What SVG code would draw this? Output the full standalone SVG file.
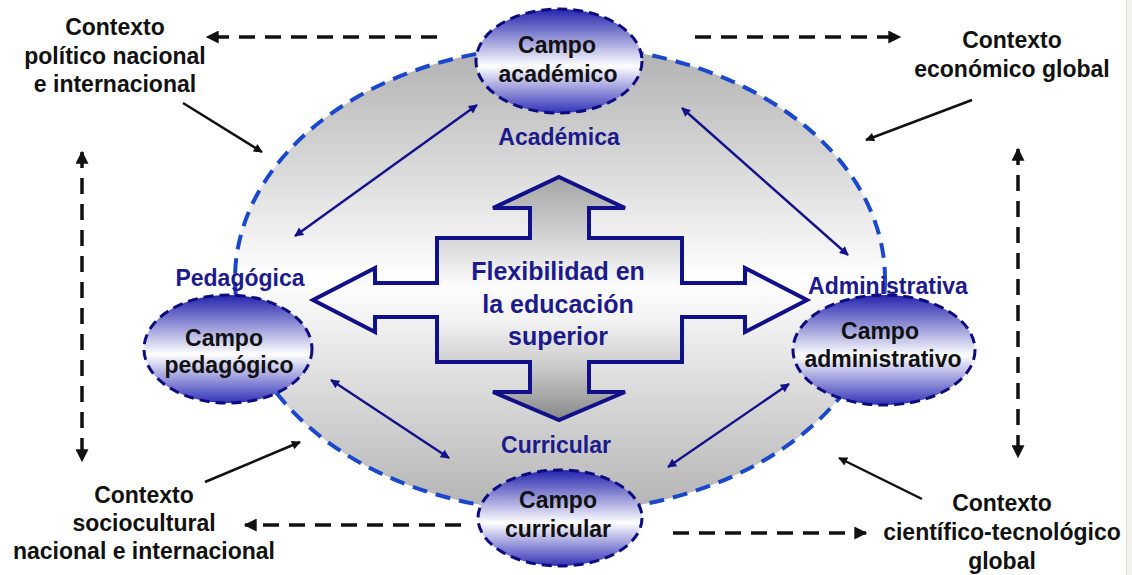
<svg xmlns="http://www.w3.org/2000/svg" width="1132" height="575" viewBox="0 0 1132 575">
<style>
.ctx{font-family:"Liberation Sans",Arial,sans-serif;font-weight:bold;font-size:23px;fill:#111;text-anchor:middle}
.lbl{font-family:"Liberation Sans",Arial,sans-serif;font-weight:bold;font-size:23px;fill:#1c1a8c;text-anchor:middle}
.flex{font-family:"Liberation Sans",Arial,sans-serif;font-weight:bold;font-size:25px;fill:#1c1a8c;text-anchor:middle}
.campo{fill:url(#gc);stroke:#0c0c80;stroke-width:3;stroke-dasharray:10 6}
.blue{stroke:#12128a;stroke-width:2.4;fill:none;marker-start:url(#mb);marker-end:url(#mb)}
.blk{stroke:#111;stroke-width:2.5;fill:none;marker-end:url(#mk)}
.dsh{stroke:#111;stroke-width:3.5;fill:none;stroke-dasharray:16 10}
</style>
<defs>
<linearGradient id="gbig" gradientUnits="userSpaceOnUse" x1="0" y1="45" x2="0" y2="512">
<stop offset="0" stop-color="#b0b0b0"/><stop offset="0.5" stop-color="#ffffff"/><stop offset="1" stop-color="#b3b3b3"/>
</linearGradient>
<linearGradient id="gc" x1="0" y1="0" x2="0" y2="1">
<stop offset="0" stop-color="#2424ae"/><stop offset="0.55" stop-color="#ffffff"/><stop offset="1" stop-color="#3232b8"/>
</linearGradient>
<linearGradient id="gx" gradientUnits="userSpaceOnUse" x1="0" y1="177" x2="0" y2="420">
<stop offset="0" stop-color="#a4a4a4"/><stop offset="0.25" stop-color="#d4d4d4"/><stop offset="0.45" stop-color="#fdfdfd"/><stop offset="0.6" stop-color="#f2f2f2"/><stop offset="0.8" stop-color="#c6c6c6"/><stop offset="1" stop-color="#888888"/>
</linearGradient>
<marker id="mb" viewBox="0 0 10 10" refX="9" refY="5" markerWidth="11" markerHeight="9" markerUnits="userSpaceOnUse" orient="auto-start-reverse"><path d="M0,0 L10,5 L0,10 z" fill="#12128a"/></marker>
<marker id="mk" viewBox="0 0 10 10" refX="9" refY="5" markerWidth="12" markerHeight="9" markerUnits="userSpaceOnUse" orient="auto-start-reverse"><path d="M0,0 L10,5 L0,10 z" fill="#111"/></marker>
<marker id="md" viewBox="0 0 10 10" refX="9" refY="5" markerWidth="14" markerHeight="13" markerUnits="userSpaceOnUse" orient="auto-start-reverse"><path d="M0,0 L10,5 L0,10 z" fill="#111"/></marker>
</defs>
<rect width="1132" height="575" fill="#fff"/>
<rect x="1127" y="0" width="5" height="575" fill="#f3f3ee"/>
<line x1="1126.5" y1="0" x2="1126.5" y2="575" stroke="#dcdcd6" stroke-width="1"/>

<g id="marco">
<ellipse cx="560" cy="279" rx="325" ry="233" fill="url(#gbig)" stroke="#1a48cc" stroke-width="4" stroke-dasharray="15 9"/>
</g>

<g id="connectors">
<line class="blue" x1="295" y1="236" x2="477" y2="105"/>
<line class="blue" x1="682" y1="108" x2="848" y2="255"/>
<line class="blue" x1="331" y1="380" x2="449" y2="458"/>
<line class="blue" x1="668" y1="467" x2="789" y2="384"/>
<line class="blk" x1="183" y1="103" x2="262" y2="152"/>
<line class="blk" x1="972" y1="100" x2="866" y2="140"/>
<line class="blk" x1="205" y1="482" x2="300" y2="442"/>
<line class="blk" x1="922" y1="499" x2="839" y2="458"/>
<line class="dsh" x1="437" y1="37" x2="207" y2="37" marker-end="url(#md)"/>
<line class="dsh" x1="695" y1="37" x2="900" y2="37" marker-end="url(#md)"/>
<line class="dsh" x1="82" y1="152" x2="82" y2="461" marker-start="url(#md)" marker-end="url(#md)"/>
<line class="dsh" x1="1018" y1="149" x2="1018" y2="457" marker-start="url(#md)" marker-end="url(#md)"/>
<line class="dsh" x1="461" y1="525" x2="245" y2="525" marker-end="url(#md)"/>
<line class="dsh" x1="673" y1="533" x2="866" y2="533" marker-end="url(#md)"/>
</g>

<g id="flexibilidad">
<path d="M559,177 L625,208 L589,208 L589,238 L682,238 L682,283 L745,283 L745,268 L807,300 L745,332 L745,317 L682,317 L682,362 L589,362 L589,392 L625,392 L559,420 L493,392 L530,392 L530,362 L437,362 L437,317 L375,317 L375,332 L313,300 L375,268 L375,283 L437,283 L437,238 L530,238 L530,208 L493,208 Z" fill="url(#gx)" stroke="#10108a" stroke-width="4" stroke-linejoin="miter"/>
<text class="flex" x="558" y="280">Flexibilidad en</text>
<text class="flex" x="558" y="313">la educación</text>
<text class="flex" x="558" y="345">superior</text>
</g>

<g id="campo-academico">
<ellipse class="campo" cx="559" cy="61" rx="83" ry="52"/>
<text class="ctx" x="557" y="53">Campo</text>
<text class="ctx" x="558" y="82">académico</text>
</g>
<g id="label-academica"><text class="lbl" x="559" y="145">Académica</text></g>

<g id="campo-pedagogico">
<ellipse class="campo" cx="228" cy="349" rx="84" ry="54"/>
<text class="ctx" x="224" y="346">Campo</text>
<text class="ctx" x="229" y="373">pedagógico</text>
</g>
<g id="label-pedagogica"><text class="lbl" x="240" y="286">Pedagógica</text></g>

<g id="campo-administrativo">
<ellipse class="campo" cx="884" cy="350" rx="91" ry="55"/>
<text class="ctx" x="880" y="339">Campo</text>
<text class="ctx" x="883" y="367">administrativo</text>
</g>
<g id="label-administrativa"><text class="lbl" x="888" y="294">Administrativa</text></g>

<g id="campo-curricular">
<ellipse class="campo" cx="560" cy="518" rx="82" ry="48"/>
<text class="ctx" x="558" y="508">Campo</text>
<text class="ctx" x="558" y="537">curricular</text>
</g>
<g id="label-curricular"><text class="lbl" x="556" y="453">Curricular</text></g>

<g id="contexto-politico">
<text class="ctx" x="115" y="35">Contexto</text>
<text class="ctx" x="115" y="64">político nacional</text>
<text class="ctx" x="115" y="92">e internacional</text>
</g>
<g id="contexto-economico">
<text class="ctx" x="1012" y="48">Contexto</text>
<text class="ctx" x="1012" y="77">económico global</text>
</g>
<g id="contexto-sociocultural">
<text class="ctx" x="144" y="503">Contexto</text>
<text class="ctx" x="144" y="531">sociocultural</text>
<text class="ctx" x="144" y="559">nacional e internacional</text>
</g>
<g id="contexto-cientifico">
<text class="ctx" x="1002" y="511">Contexto</text>
<text class="ctx" x="1002" y="540">científico-tecnológico</text>
<text class="ctx" x="1002" y="569">global</text>
</g>
</svg>
